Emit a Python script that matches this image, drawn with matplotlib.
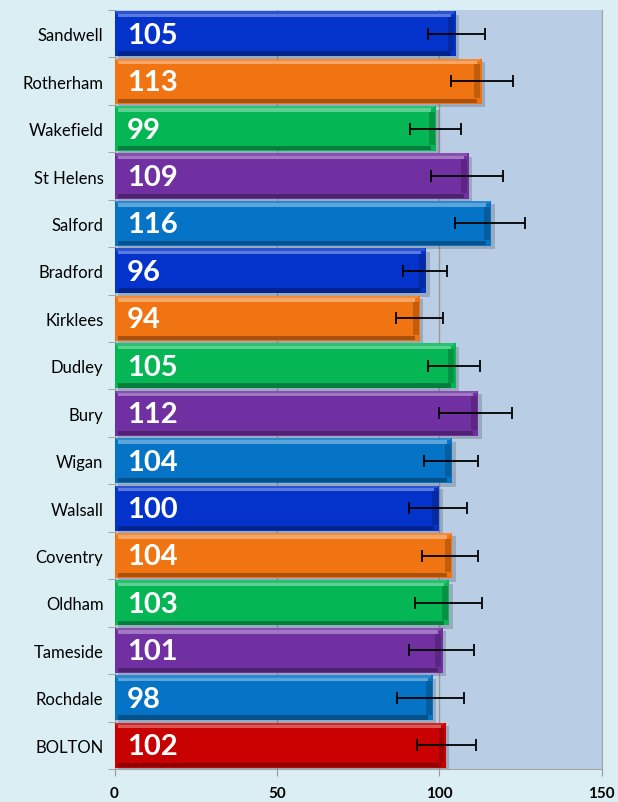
import matplotlib
matplotlib.use("Agg")
import matplotlib.pyplot as plt
import matplotlib.patheffects as pe
import numpy as np

# areas top to bottom
areas = ["Sandwell", "Rotherham", "Wakefield", "St Helens", "Salford", "Bradford",
         "Kirklees", "Dudley", "Bury", "Wigan", "Walsall", "Coventry", "Oldham",
         "Tameside", "Rochdale", "BOLTON"]
values = [105, 113, 99, 109, 116, 96, 94, 105, 112, 104, 100, 104, 103, 101, 98, 102]
# confidence interval ends
ci_low = [96.5, 103.5, 91.0, 97.4, 104.9, 88.7, 86.8, 96.4, 99.8, 95.2, 90.8, 94.7, 92.5, 90.6, 87.1, 93.1]
ci_high = [114.1, 122.6, 106.8, 119.5, 126.4, 102.3, 101.1, 112.5, 122.5, 112.0, 108.4, 112.0, 113.1, 110.6, 107.7, 111.3]
x_ticks = [0, 50, 100, 150]

blue = "#0433cc"
orange = "#f07512"
green = "#05b654"
purple = "#7130a2"
ltblue = "#0574c6"
red = "#c80000"
colors = [blue, orange, green, purple, ltblue] * 3 + [red]

plt.rcParams['font.family'] = ['Lato', 'DejaVu Sans']

fig = plt.figure(figsize=(6.18, 8.03), dpi=100, facecolor="#dbeef4")
ax = fig.add_axes([0.1853, 0.0411, 0.7883, 0.9452])
ax.set_facecolor("#b9cde5")

y = np.arange(len(areas))
h = 0.95

# main bars with a soft shadow
bars = ax.barh(y, values, height=h, color=colors, zorder=3)
for b in bars:
    b.set_path_effects([pe.SimplePatchShadow(offset=(2.5, -2.5), shadow_rgbFace="#505a66", alpha=0.3),
                        pe.Normal()])

# fake bevel: light strip on top, dark strip at bottom, dark cap at the end
def shade(c, f):
    c = np.array(matplotlib.colors.to_rgb(c))
    if f > 0:
        return tuple(c + (1 - c) * f)
    return tuple(c * (1 + f))

for i, (v, c) in enumerate(zip(values, colors)):
    ax.barh(i - h / 2 + 0.07, v - 2.5, height=0.1, left=1.0, color=shade(c, 0.35), zorder=4, lw=0)
    ax.barh(i - h / 2 + 0.025, v - 1.0, height=0.05, left=0.5, color=shade(c, 0.15), zorder=4, lw=0)
    ax.barh(i + h / 2 - 0.06, v - 2.5, height=0.09, left=1.0, color=shade(c, -0.3), zorder=4, lw=0)
    ax.barh(i, 1.8, height=h - 0.24, left=v - 2.2, color=shade(c, -0.2), zorder=4, lw=0)
    ax.text(3.8, i + 0.02, str(v), color="white", fontsize=21, fontweight="bold",
            va="center", ha="left", zorder=6)

err = [np.array(values) - np.array(ci_low), np.array(ci_high) - np.array(values)]
ax.errorbar(values, y, xerr=err, fmt="none", ecolor="black", elinewidth=1.3,
            capsize=4.5, capthick=1.3, zorder=5)

ax.set_xlim(0, 150)
ax.set_ylim(len(areas) - 0.5, -0.5)
ax.set_xticks(x_ticks)
ax.set_xticklabels([str(t) for t in x_ticks], fontsize=11, fontweight="bold")
ax.set_yticks(y)
ax.set_yticklabels(areas, fontsize=12)
ax.set_yticks(np.arange(len(areas) + 1) - 0.5, minor=True)
ax.tick_params(axis="y", which="major", length=0, pad=8)
ax.tick_params(axis="y", which="minor", length=5, color="#999999")
ax.tick_params(axis="x", length=5, color="#999999", pad=7)

ax.xaxis.grid(True, color="#9a9a9a", lw=1.0, zorder=1)
ax.set_axisbelow(True)
for s in ["top"]:
    ax.spines[s].set_visible(False)
for s in ["left", "bottom", "right"]:
    ax.spines[s].set_color("#a6a6a6")

fig.savefig("out.png", dpi=100, facecolor=fig.get_facecolor())
